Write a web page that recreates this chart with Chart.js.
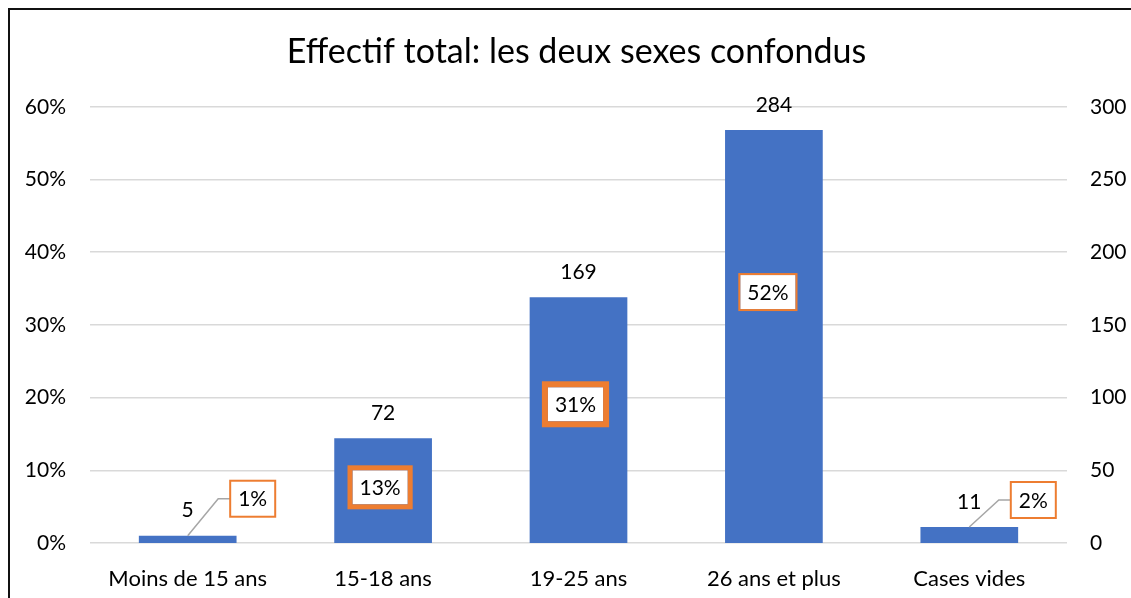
<!DOCTYPE html>
<html>
<head>
<meta charset="utf-8">
<script src="https://cdn.jsdelivr.net/npm/chart.js@4"></script>
<style>
    html, body { margin: 0; padding: 0; background: #fff; }
    #wrap { width: 1131px; height: 598px; position: relative; }
</style>
</head>
<body>
<div id="wrap"><canvas id="chart" width="1131" height="598"></canvas></div>
<script>
const categories = ['Moins de 15 ans', '15-18 ans', '19-25 ans', '26 ans et plus', 'Cases vides'];
const effectifs = [5, 72, 169, 284, 11];
const pourcentages = [0.01, 0.13, 0.31, 0.52, 0.02];
const pctTicks = [0, 0.1, 0.2, 0.3, 0.4, 0.5, 0.6];
const countTicks = [0, 50, 100, 150, 200, 250, 300];

const FONT = 'Lato, "Open Sans", sans-serif';

// where each % box sits relative to the top of its bar, and how thick its frame is
const pctBoxes = [
    { dx: 65, dy: -37, frame: 2, leader: true },
    { dx: -3, dy: 49, frame: 5 },
    { dx: -3, dy: 107, frame: 6 },
    { dx: -6, dy: 162, frame: 2 },
    { dx: 64, dy: -27, frame: 2, leader: true }
];

const labelsPlugin = {
    id: 'labels',
    beforeDraw(chart) {
        const ctx = chart.ctx;
        ctx.save();
        ctx.fillStyle = '#fff';
        ctx.fillRect(0, 0, chart.width, chart.height);
        ctx.strokeStyle = '#111';
        ctx.lineWidth = 2;
        ctx.strokeRect(9, 9, chart.width + 20, chart.height + 20);
        ctx.restore();
    },
    afterDatasetsDraw(chart) {
        const ctx = chart.ctx;
        const meta = chart.getDatasetMeta(0);
        ctx.save();
        ctx.font = '21px ' + FONT;
        ctx.textAlign = 'center';
        ctx.textBaseline = 'middle';
        meta.data.forEach((bar, i) => {
            const x = bar.x;
            const top = bar.y;
            ctx.fillStyle = '#000';
            ctx.fillText(String(effectifs[i]), x, top - 25);

            const b = pctBoxes[i];
            const text = Math.round(pourcentages[i] * 100) + '%';
            const cx = x + b.dx;
            const cy = top + b.dy;
            const w = ctx.measureText(text).width + 14;
            const h = 34;
            if (b.leader) {
                ctx.strokeStyle = '#a6a6a6';
                ctx.lineWidth = 1.5;
                ctx.beginPath();
                ctx.moveTo(x, top);
                ctx.lineTo(cx - w / 2 - b.frame - 11, cy);
                ctx.lineTo(cx - w / 2 - b.frame / 2, cy);
                ctx.stroke();
            }
            ctx.fillStyle = '#fff';
            ctx.fillRect(cx - w / 2, cy - h / 2, w, h);
            ctx.strokeStyle = '#ed7d31';
            ctx.lineWidth = b.frame;
            ctx.strokeRect(cx - w / 2 - b.frame / 2, cy - h / 2 - b.frame / 2, w + b.frame, h + b.frame);
            ctx.fillStyle = '#000';
            ctx.fillText(text, cx, cy + 1);
        });
        ctx.restore();
    }
};

new Chart(document.getElementById('chart'), {
    type: 'bar',
    data: {
        labels: categories,
        datasets: [
            {
                label: 'Effectif',
                data: effectifs,
                yAxisID: 'y1',
                backgroundColor: '#4472c4',
                barPercentage: 0.5,
                categoryPercentage: 1
            },
            {
                type: 'line',
                label: 'Pourcentage',
                data: pourcentages,
                yAxisID: 'y',
                showLine: false,
                pointRadius: 0
            }
        ]
    },
    plugins: [labelsPlugin],
    options: {
        responsive: false,
        animation: false,
        layout: { padding: { left: 22, right: 0, top: 0, bottom: 0 } },
        plugins: {
            legend: { display: false },
            tooltip: { enabled: false },
            title: {
                display: true,
                text: 'Effectif total: les deux sexes confondus',
                color: '#000',
                font: { family: FONT, size: 34, weight: 'normal', lineHeight: 1.2 },
                padding: { top: 32, bottom: 34 }
            }
        },
        scales: {
            x: {
                grid: { display: false },
                border: { display: false },
                ticks: { color: '#000', font: { family: FONT, size: 22 }, padding: 15 },
                afterFit: s => { s.height = 55; }
            },
            y: {
                position: 'left',
                min: 0,
                max: 0.6,
                afterBuildTicks: s => { s.ticks = pctTicks.map(v => ({ value: v })); },
                grid: { color: '#d9d9d9', lineWidth: 1.5, drawTicks: false },
                border: { display: false },
                ticks: {
                    color: '#000',
                    font: { family: FONT, size: 21 },
                    padding: 24,
                    callback: v => Math.round(v * 100) + '%'
                },
                afterFit: s => { s.width = 68; }
            },
            y1: {
                position: 'right',
                min: 0,
                max: 300,
                afterBuildTicks: s => { s.ticks = countTicks.map(v => ({ value: v })); },
                grid: { display: false, drawTicks: false },
                border: { display: false },
                ticks: { color: '#000', font: { family: FONT, size: 21 }, padding: 23 },
                afterFit: s => { s.width = 64; }
            }
        }
    }
});
</script>
</body>
</html>
